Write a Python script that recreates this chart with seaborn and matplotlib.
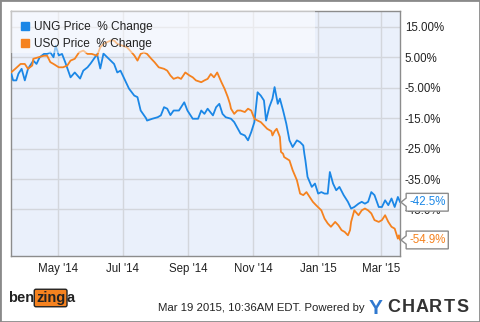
import matplotlib
matplotlib.use("Agg")
import matplotlib.pyplot as plt
from matplotlib.path import Path
from matplotlib.patches import Rectangle
from matplotlib.lines import Line2D
import seaborn as sns
import pandas as pd

# ---------------- data ----------------
ung_dates = ["2014-03-18", "2014-03-20", "2014-03-23", "2014-03-25", "2014-03-28", "2014-03-31",
             "2014-04-03", "2014-04-08", "2014-04-11", "2014-04-14", "2014-04-18", "2014-04-21",
             "2014-04-24", "2014-04-27", "2014-04-29", "2014-05-02", "2014-05-05", "2014-05-08",
             "2014-05-13", "2014-05-17", "2014-05-22", "2014-05-25", "2014-05-29", "2014-06-01",
             "2014-06-04", "2014-06-07", "2014-06-10", "2014-06-13", "2014-06-18", "2014-06-23",
             "2014-06-26", "2014-06-29", "2014-07-02", "2014-07-07", "2014-07-12", "2014-07-15",
             "2014-07-18", "2014-07-23", "2014-07-24", "2014-07-29", "2014-08-03", "2014-08-06",
             "2014-08-09", "2014-08-12", "2014-08-15", "2014-08-18", "2014-08-23", "2014-08-28",
             "2014-08-31", "2014-09-05", "2014-09-10", "2014-09-13", "2014-09-16", "2014-09-19",
             "2014-09-24", "2014-09-27", "2014-09-30", "2014-10-03", "2014-10-06", "2014-10-11",
             "2014-10-14", "2014-10-20", "2014-10-24", "2014-10-27", "2014-10-30", "2014-11-02",
             "2014-11-05", "2014-11-08", "2014-11-11", "2014-11-13", "2014-11-16", "2014-11-19",
             "2014-11-21", "2014-11-24", "2014-11-26", "2014-11-29", "2014-12-02", "2014-12-05",
             "2014-12-08", "2014-12-12", "2014-12-15", "2014-12-18", "2014-12-19", "2014-12-20",
             "2014-12-22", "2014-12-26", "2014-12-29", "2015-01-01", "2015-01-04", "2015-01-07",
             "2015-01-10", "2015-01-12", "2015-01-15", "2015-01-18", "2015-01-21", "2015-01-25",
             "2015-01-29", "2015-02-01", "2015-02-04", "2015-02-08", "2015-02-11", "2015-02-14",
             "2015-02-17", "2015-02-20", "2015-02-23", "2015-02-27", "2015-03-02", "2015-03-05",
             "2015-03-08", "2015-03-11", "2015-03-14", "2015-03-17", "2015-03-19"]
ung_values = [0.0, -2.6, -2.6, -0.4, 1.2, -2.6,
              1.2, 3.9, 2.8, 5.0, 6.1, 6.1,
              6.6, 5.0, 8.8, 5.6, 6.1, 3.4,
              -1.6, 0.0, -2.0, 0.6, 1.7, 3.0,
              4.5, 6.0, 1.3, 6.2, 4.5, 2.8,
              0.0, 0.6, -1.6, -5.3, -7.6, -8.1,
              -12.5, -15.0, -15.8, -15.2, -14.7, -14.1,
              -11.4, -11.9, -14.0, -12.5, -12.5, -9.8,
              -12.5, -15.2, -15.2, -12.5, -13.6, -11.9,
              -14.1, -11.4, -10.3, -13.6, -14.7, -15.2,
              -16.3, -20.1, -20.7, -22.3, -19.6, -16.3,
              -6.5, -7.6, -9.2, -15.8, -11.4, -8.6,
              -4.8, -10.3, -8.6, -12.5, -16.8, -22.3,
              -24.5, -22.3, -22.9, -24.0, -26.7, -28.9,
              -34.3, -37.6, -36.5, -39.8, -39.3, -39.8,
              -39.8, -32.7, -36.5, -38.7, -37.6, -40.3,
              -42.5, -44.7, -44.2, -43.1, -42.5, -43.1,
              -42.5, -39.3, -40.3, -44.2, -44.2, -42.0,
              -43.6, -41.4, -44.2, -40.9, -42.5]

uso_dates = ["2014-03-18", "2014-03-22", "2014-03-27", "2014-03-31", "2014-04-03", "2014-04-07",
             "2014-04-08", "2014-04-13", "2014-04-18", "2014-04-21", "2014-04-24", "2014-04-27",
             "2014-05-02", "2014-05-06", "2014-05-10", "2014-05-13", "2014-05-17", "2014-05-21",
             "2014-05-25", "2014-05-29", "2014-06-02", "2014-06-07", "2014-06-10", "2014-06-13",
             "2014-06-16", "2014-06-20", "2014-06-23", "2014-06-26", "2014-07-01", "2014-07-05",
             "2014-07-08", "2014-07-12", "2014-07-15", "2014-07-18", "2014-07-21", "2014-07-24",
             "2014-07-28", "2014-07-31", "2014-08-04", "2014-08-09", "2014-08-12", "2014-08-15",
             "2014-08-18", "2014-08-22", "2014-08-25", "2014-08-29", "2014-09-02", "2014-09-05",
             "2014-09-08", "2014-09-13", "2014-09-16", "2014-09-19", "2014-09-22", "2014-09-25",
             "2014-09-28", "2014-10-02", "2014-10-05", "2014-10-08", "2014-10-10", "2014-10-11",
             "2014-10-14", "2014-10-17", "2014-10-20", "2014-10-24", "2014-10-27", "2014-10-30",
             "2014-11-02", "2014-11-05", "2014-11-08", "2014-11-11", "2014-11-14", "2014-11-18",
             "2014-11-19", "2014-11-21", "2014-11-23", "2014-11-26", "2014-11-27", "2014-11-29",
             "2014-11-30", "2014-12-05", "2014-12-08", "2014-12-12", "2014-12-15", "2014-12-18",
             "2014-12-21", "2014-12-24", "2014-12-27", "2014-12-30", "2015-01-04", "2015-01-07",
             "2015-01-10", "2015-01-13", "2015-01-17", "2015-01-20", "2015-01-23", "2015-01-26",
             "2015-01-29", "2015-01-31", "2015-02-01", "2015-02-04", "2015-02-08", "2015-02-11",
             "2015-02-14", "2015-02-17", "2015-02-20", "2015-02-23", "2015-02-27", "2015-03-02",
             "2015-03-05", "2015-03-08", "2015-03-11", "2015-03-14", "2015-03-17", "2015-03-18",
             "2015-03-19"]
uso_values = [0.0, 1.2, 2.8, 2.8, 1.2, 2.3,
              4.5, 5.0, 5.5, 5.5, 3.4, 2.8,
              1.7, 1.7, 2.3, 3.9, 4.5, 6.6,
              7.2, 6.1, 6.1, 5.5, 8.3, 9.4,
              9.9, 10.5, 10.5, 9.4, 8.8, 8.3,
              7.2, 5.6, 3.9, 6.1, 6.6, 6.1,
              4.5, 3.4, 1.7, 1.2, 0.6, -1.0,
              -2.1, -1.6, -2.1, 0.0, -1.0, -1.6,
              -2.6, -3.2, -2.6, -2.1, -0.5, -1.6,
              0.0, -3.2, -5.4, -8.1, -10.3, -11.9,
              -13.6, -12.5, -12.5, -13.0, -11.9, -12.5,
              -15.2, -15.8, -16.3, -17.4, -18.5, -19.3,
              -20.7, -19.3, -18.5, -21.2, -26.1, -26.7,
              -27.8, -28.9, -32.1, -35.4, -39.8, -40.3,
              -39.3, -40.9, -42.5, -43.6, -45.3, -48.0,
              -49.6, -50.7, -49.1, -50.2, -51.8, -52.4,
              -53.5, -51.8, -49.1, -45.3, -46.9, -45.3,
              -44.7, -45.3, -46.3, -48.5, -49.1, -48.5,
              -46.9, -49.1, -50.7, -51.3, -54.6, -53.5,
              -54.9]

series_names = ["UNG Price  % Change", "USO Price  % Change"]
series_colors = ["#1b87e6", "#f5821f"]
end_labels = ["-42.5%", "-54.9%"]

y_ticks = [15, 5, -5, -15, -25, -35, -45]
y_tick_labels = ["15.00%", "5.00%", "-5.00%", "-15.0%", "-25.0%", "-35.0%", "-45.0%"]
x_ticks = ["2014-05-01", "2014-07-01", "2014-09-01", "2014-11-01", "2015-01-01", "2015-03-01"]
x_tick_labels = ["May '14", "Jul '14", "Sep '14", "Nov '14", "Jan '15", "Mar '15"]

footer_text = "Mar 19 2015, 10:36AM EDT. Powered by"
brand_letters = ["C", "H", "A", "R", "T", "S"]

# ---------------- frame ----------------
df = pd.concat([
    pd.DataFrame({"date": pd.to_datetime(ung_dates), "value": ung_values, "series": series_names[0]}),
    pd.DataFrame({"date": pd.to_datetime(uso_dates), "value": uso_values, "series": series_names[1]}),
])

plt.rcParams['font.family'] = ['Liberation Sans', 'DejaVu Sans']

fig = plt.figure(figsize=(4.8, 3.22), dpi=100)
ax = fig.add_axes([11 / 480, 66 / 322, 389 / 480, 245 / 322])
ax.set_facecolor("#eaf0fb")

sns.lineplot(data=df, x="date", y="value", hue="series", hue_order=series_names,
             palette=series_colors, linewidth=1.3, ax=ax, legend=False, zorder=3)

ax.set_xlim(pd.Timestamp("2014-03-18"), pd.Timestamp("2015-03-19"))
ax.set_ylim(-60.3, 20.2)

ax.set_yticks(y_ticks)
ax.set_yticklabels(y_tick_labels)
ax.yaxis.tick_right()
ax.set_xticks(pd.to_datetime(x_ticks))
ax.set_xticklabels(x_tick_labels)
ax.tick_params(axis="both", length=0, labelsize=8.3, colors="#222222")
ax.tick_params(axis="y", pad=3.5)
ax.tick_params(axis="x", pad=5)
ax.set_xlabel("")
ax.set_ylabel("")
ax.grid(True, color="#d3d6dc", linewidth=1.0, zorder=0)
ax.set_axisbelow(True)
for s in ax.spines.values():
    s.set_color("#8c8c8c")
    s.set_linewidth(1.0)

# legend backdrop
ax.add_patch(Rectangle((0, 0.829), 0.781, 0.171, transform=ax.transAxes,
                       facecolor="white", alpha=0.5, edgecolor="none", zorder=4))
handles = [Line2D([], [], linestyle="none", marker="s", markersize=6, color=c) for c in series_colors]
leg = ax.legend(handles, series_names, loc="upper left", bbox_to_anchor=(0.0, 1.0),
                frameon=False, handlelength=0.6, handletextpad=0.45, labelspacing=0.42,
                borderaxespad=0.45, prop={"size": 8.6})
leg.set_zorder(5)
for t in leg.get_texts():
    t.set_color("#222222")


# end-value callouts
class Callout:
    def __init__(self, pad=0.25):
        self.pad = pad

    def __call__(self, x0, y0, width, height, mutation_size):
        pad = mutation_size * self.pad
        x0 -= pad
        y0 -= pad
        x1 = x0 + width + 2 * pad
        y1 = y0 + height + 2 * pad
        ym = (y0 + y1) / 2
        tip = mutation_size * 0.45
        verts = [(x0, y0), (x1, y0), (x1, y1), (x0, y1), (x0, ym + tip * 0.8),
                 (x0 - tip, ym), (x0, ym - tip * 0.8), (x0, y0), (x0, y0)]
        codes = [Path.MOVETO] + [Path.LINETO] * 7 + [Path.CLOSEPOLY]
        return Path(verts, codes)


for dates, vals, col, lab in [(ung_dates, ung_values, series_colors[0], end_labels[0]),
                              (uso_dates, uso_values, series_colors[1], end_labels[1])]:
    ax.annotate(lab, xy=(pd.Timestamp(dates[-1]), vals[-1]), xytext=(6.5, -0.3),
                textcoords="offset points", ha="left", va="center", fontsize=8.3, color=col,
                annotation_clip=False, zorder=10,
                bbox=dict(boxstyle=Callout(), facecolor="white", edgecolor="#8c8c8c", linewidth=1.0))

# footer
fy = 1 - 308 / 322
fig.text(365 / 480, fy, footer_text, ha="right", va="center", fontsize=8.2, color="#222222")
fig.text(369 / 480, fy, "Y", ha="left", va="center", fontsize=15,
         fontweight="bold", color="#2f78cf")
for i, letter in enumerate(brand_letters):
    fig.text((394 + i * 13.8) / 480, fy, letter, ha="center", va="center", fontsize=13,
             fontweight="bold", color="#333333")

# benzinga logo (approximation)
fig.text(8 / 480, 1 - 298 / 322, "ben", ha="left", va="center", fontsize=10.5,
         fontweight="bold", color="#222222")
fig.text(36 / 480, 1 - 298 / 322, "zing", ha="left", va="center", fontsize=10.5,
         fontweight="bold", color="#222222",
         bbox=dict(boxstyle="round,pad=0.12", facecolor="#f5821f", edgecolor="#222222", linewidth=1.0))
fig.text(67 / 480, 1 - 298 / 322, "a", ha="left", va="center", fontsize=10.5,
         fontweight="bold", color="#222222")

# outer border
fig.patches.append(Rectangle((0, 0), 1, 1, transform=fig.transFigure, fill=False,
                             edgecolor="#8a8a8a", linewidth=2.0))

fig.savefig("out.png", dpi=100)
